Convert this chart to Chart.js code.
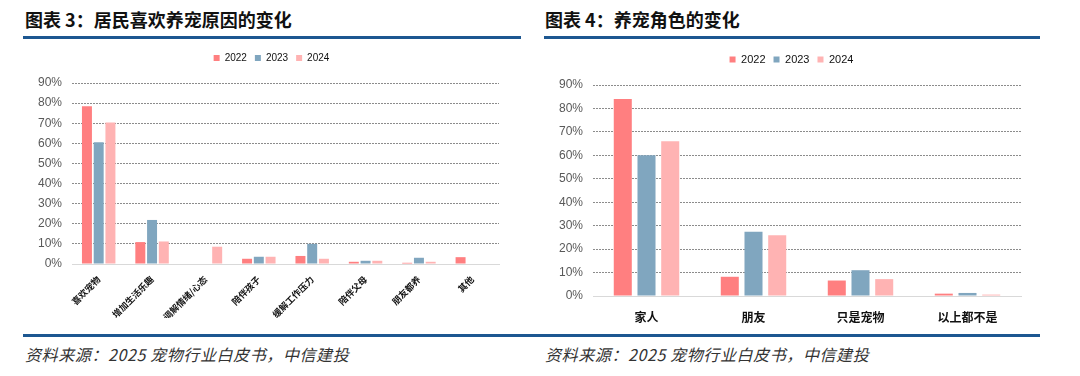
<!DOCTYPE html>
<html>
<head>
<meta charset="utf-8">
<script src="https://cdn.jsdelivr.net/npm/chart.js@4"></script>
<style>
  body { margin: 0; width: 1080px; height: 376px; background: #fff; position: relative; overflow: hidden; }
  .title { position: absolute; top: 6px; font-family: "Noto Sans CJK SC", sans-serif; font-weight: bold; font-size: 18px; color: #111; }
  .rule { position: absolute; height: 3px; background: #1d5791; }
  .note { position: absolute; top: 342px; font-family: "Noto Sans CJK SC", sans-serif; font-style: italic; font-size: 16px; letter-spacing: 0.6px; color: #333; }
  .box { position: absolute; }
</style>
</head>
<body>
<div class="title" style="left:25px">图表 3：居民喜欢养宠原因的变化</div>
<div class="title" style="left:545px">图表 4：养宠角色的变化</div>
<div class="rule" style="left:23px; width:498px; top:36px"></div>
<div class="rule" style="left:544px; width:496px; top:36px"></div>
<div class="rule" style="left:23px; width:1017px; top:334px"></div>
<div class="note" style="left:25px">资料来源：2025 宠物行业白皮书，中信建投</div>
<div class="note" style="left:545px">资料来源：2025 宠物行业白皮书，中信建投</div>

<div class="box" style="left:20px; top:42px; width:482px; height:276px"><canvas id="chart3"></canvas></div>
<div class="box" style="left:540px; top:44px; width:484px; height:284px"><canvas id="chart4"></canvas></div>

<script>
// 数据
const years = ['2022', '2023', '2024'];
const reasons = ['喜欢宠物', '增加生活乐趣', '调解情绪/心态', '陪伴孩子', '缓解工作压力', '陪伴父母', '朋友都养', '其他'];
const reasons2022 = [78.5, 10.9, 0, 2.6, 4.0, 1.1, 0.6, 3.4];
const reasons2023 = [60.5, 21.9, 0, 3.6, 10.0, 1.6, 3.1, 0];
const reasons2024 = [70.3, 11.2, 8.6, 3.6, 2.6, 1.6, 1.1, 0];

const roles = ['家人', '朋友', '只是宠物', '以上都不是'];
const roles2022 = [84.0, 8.2, 6.6, 1.0];
const roles2023 = [60.0, 27.4, 11.0, 1.3];
const roles2024 = [66.0, 25.9, 7.2, 0.6];

const yTicks = [0, 10, 20, 30, 40, 50, 60, 70, 80, 90];
const colors = ['#ff7f80', '#80a6bf', '#ffb3b3'];

// 图例下方留白 + 水平微调
function legendTweak(gap, shift) {
  return {
    id: 'legendTweak',
    beforeInit(chart) {
      const legend = chart.legend;
      const fit = legend.fit;
      legend.fit = function() {
        fit.call(this);
        this.height += gap;
      };
    },
    afterLayout(chart) {
      chart.legend.left += shift;
      chart.legend.right += shift;
    }
  };
}

function makeChart(id, labels, series, opt) {
  const ctx = document.getElementById(id).getContext('2d');
  return new Chart(ctx, {
    type: 'bar',
    data: {
      labels: labels,
      datasets: series.map((data, i) => ({
        label: years[i],
        data: data,
        backgroundColor: colors[i],
        borderWidth: 0,
        categoryPercentage: opt.cat,
        barPercentage: opt.bar
      }))
    },
    plugins: [legendTweak(opt.gap, opt.shift)],
    options: {
      responsive: true,
      maintainAspectRatio: false,
      animation: false,
      layout: { padding: { left: 0, right: 3, top: opt.padTop, bottom: 0 } },
      plugins: {
        legend: {
          position: 'top',
          labels: {
            boxWidth: opt.legendBox,
            boxHeight: opt.legendBox,
            padding: opt.legendPad,
            color: '#111',
            font: { family: 'Liberation Sans', size: opt.legendFont }
          }
        },
        tooltip: { enabled: false }
      },
      scales: {
        x: {
          grid: { display: false },
          border: { display: true, color: '#d9d9d9', width: 1 },
          ticks: {
            color: '#111',
            font: { family: 'Noto Sans CJK SC', size: opt.xFont, weight: 'bold' },
            minRotation: opt.rot,
            maxRotation: opt.rot,
            padding: opt.xPad
          },
          afterFit: function(scale) { scale.height = opt.xHeight; }
        },
        y: {
          min: 0,
          max: 90,
          afterBuildTicks: function(scale) { scale.ticks = yTicks.map(v => ({ value: v })); },
          grid: {
            color: function(c) { return c.tick && c.tick.value === 0 ? 'rgba(0,0,0,0)' : '#8c8c8c'; },
            drawTicks: false
          },
          border: { display: false, dash: [2, 1] },
          ticks: {
            color: '#595959',
            padding: 10,
            font: { family: 'Liberation Sans', size: 12 },
            callback: function(value) { return value + '%'; }
          },
          afterFit: function(scale) { scale.width = opt.yWidth; }
        }
      }
    }
  });
}

makeChart('chart3', reasons, [reasons2022, reasons2023, reasons2024], {
  cat: 0.66, bar: 0.85, padTop: 3, yWidth: 52, gap: 10, shift: 12,
  legendBox: 6, legendPad: 8, legendFont: 10,
  xFont: 9, rot: 45, xPad: 2, xHeight: 54
});

makeChart('chart4', roles, [roles2022, roles2023, roles2024], {
  cat: 0.665, bar: 0.76, padTop: 2, yWidth: 53, gap: 10, shift: 11,
  legendBox: 6, legendPad: 8, legendFont: 11,
  xFont: 12, rot: 0, xPad: 6, xHeight: 32
});
</script>
</body>
</html>
